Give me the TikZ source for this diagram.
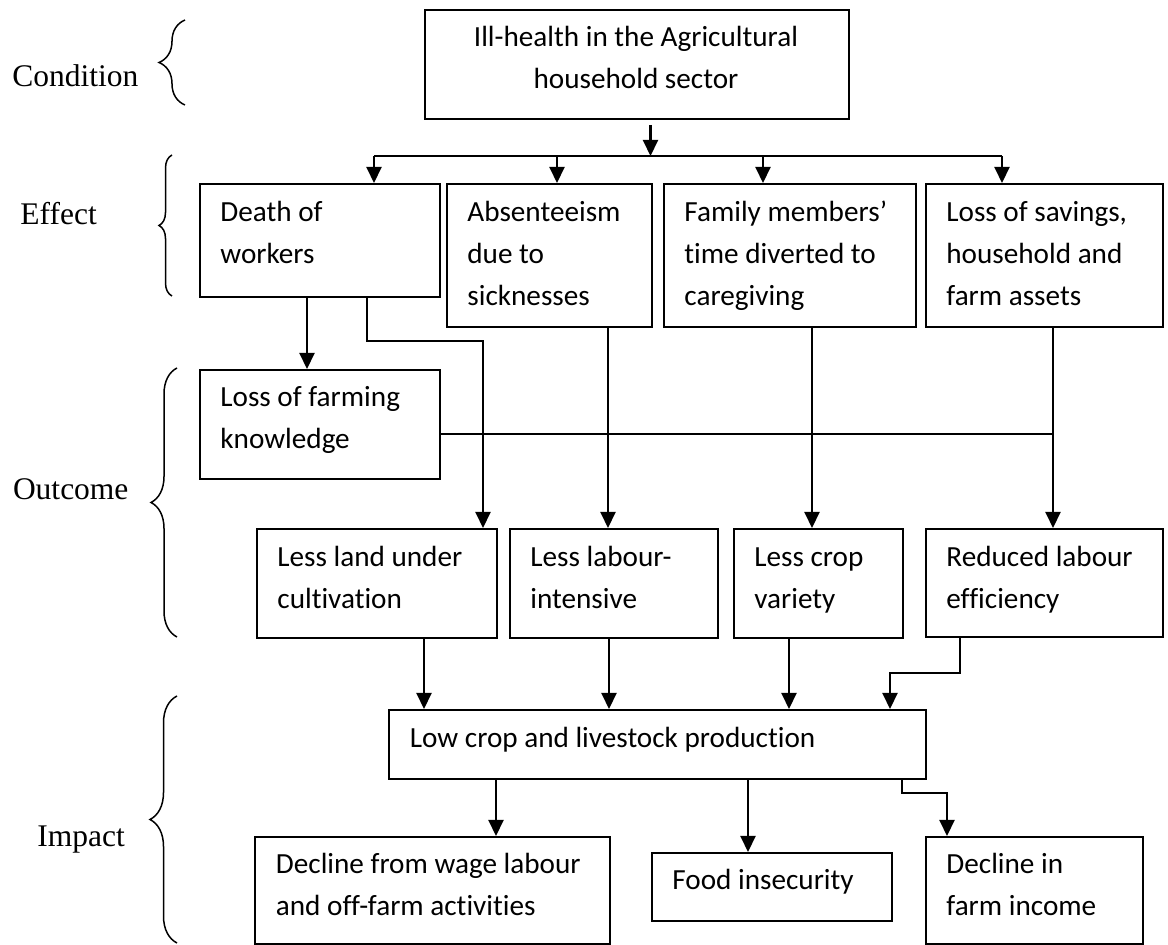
\documentclass[tikz,border=0pt]{standalone}
\usepackage{fontspec}
\setmainfont{Carlito}[Ligatures={TeX,NoCommon}]
\newfontfamily\tnr{Liberation Serif}
\usetikzlibrary{arrows.meta,decorations.pathreplacing}
\newcommand\ptext[1]{\parbox[t]{200pt}{\raggedright #1}}
\newcommand\mkbox[5]{\node[bx, minimum width={(#4-#2)*0.5pt}, minimum height={(#5-#3)*0.5pt}] (#1) at (#2,#3) {};}
\begin{document}
\begin{tikzpicture}[x=0.5pt,y=-0.5pt,
  bx/.style={draw, line width=1pt, inner sep=0pt, anchor=north west},
  tx/.style={inner sep=0pt, anchor=base west, font=\fontsize{14.6pt}{21pt}\selectfont},
  lab/.style={inner sep=0pt, anchor=base west, font=\tnr\fontsize{15.75pt}{18pt}\selectfont},
  ln/.style={line width=1.05pt},
  arr/.style={line width=1.05pt, -{Triangle[width=7.5pt,length=8pt]}},
  br/.style={line width=0.75pt, decorate, decoration={brace, amplitude=#1}},
]
\useasboundingbox (0,0) rectangle (1168,945);

% boxes
\mkbox{top}{424}{9}{848}{118}
\mkbox{death}{199}{183}{439}{296}
\mkbox{absent}{446}{183}{650.5}{326}
\mkbox{family}{663}{183}{915}{326}
\mkbox{savings}{924.5}{183}{1162}{326}
\mkbox{knowledge}{199}{369}{439}{478}
\mkbox{land}{256}{528}{496}{637}
\mkbox{labour}{509}{528}{717}{637}
\mkbox{variety}{733}{528}{902}{637}
\mkbox{efficiency}{924.5}{528}{1162}{636}
\mkbox{low}{388}{709}{924.5}{778}
\mkbox{wage}{254}{836}{609}{943}
\mkbox{food}{650.5}{852}{891}{920}
\mkbox{income}{924.5}{836}{1142}{943}

% texts
\node[tx, anchor=base] (ttop) at (636,47) {\parbox[t]{200pt}{\centering Ill-health in the Agricultural\\household sector}};
\node[tx] (tdeath) at (220,222) {\ptext{Death of\\workers}};
\node[tx] (tabs) at (467,222) {\ptext{Absenteeism\\due to\\sicknesses}};
\node[tx] (tfam) at (684,222) {\ptext{Family members’\\time diverted to\\caregiving}};
\node[tx] (tsav) at (946,222) {\ptext{Loss of savings,\\household and\\farm assets}};
\node[tx] (tknow) at (220,407) {\ptext{Loss of farming\\knowledge}};
\node[tx] (tland) at (277,567) {\ptext{Less land under\\cultivation}};
\node[tx] (tlab) at (530,567) {\ptext{Less labour-\\intensive}};
\node[tx] (tvar) at (754,567) {\ptext{Less crop\\variety}};
\node[tx] (teff) at (946,567) {\ptext{Reduced labour\\efficiency}};
\node[tx] (tlow) at (409.5,748) {Low crop and livestock production};
\node[tx] (twage) at (275.5,874) {\ptext{Decline from wage labour\\and off-farm activities}};
\node[tx] (tfood) at (672,890) {Food insecurity};
\node[tx] (tinc) at (946,874) {\ptext{Decline in\\farm income}};

% side labels
\node[lab] (lcond) at (12,87) {Condition};
\node[lab] (leff) at (20,225) {Effect};
\node[lab] (lout) at (12.6,500) {Outcome};
\node[lab] (limp) at (37,847) {Impact};

% braces
\draw[br=13pt] (185,105) -- (185,20);
\draw[br=6.5pt] (172,296) -- (172,155);
\draw[br=13pt] (177,637) -- (177,368);
\draw[br=13.5pt] (177,943) -- (177,696);

% connectors
\coordinate (bt) at (650.5,156);
\coordinate (b1) at (374,156);
\coordinate (b2) at (557,156);
\coordinate (b3) at (763,156);
\coordinate (b4) at (1002,156);
\draw[arr, shorten <=2.5pt] (top.south -| bt) -- (bt);
\draw[ln] (b1) -- (b4);
\draw[arr] (b1) -- (b1 |- death.north);
\draw[arr] (b2) -- (b2 |- absent.north);
\draw[arr] (b3) -- (b3 |- family.north);
\draw[arr] (b4) -- (b4 |- savings.north);

\coordinate (k0) at (307,0);
\draw[arr] (death.south -| k0) -- (knowledge.north -| k0);
\coordinate (d2) at (367,341);
\coordinate (d3) at (483,341);
\draw[arr] (death.south -| d2) -- (d2) -- (d3) -- (land.north -| d3);
\coordinate (x5) at (608,0);
\draw[arr] (absent.south -| x5) -- (labour.north -| x5);
\coordinate (x6) at (812,0);
\draw[arr] (family.south -| x6) -- (variety.north -| x6);
\coordinate (kj) at (1053,434);
\draw[arr] (savings.south -| kj) -- (efficiency.north -| kj);
\draw[ln] (knowledge.east |- kj) -- (kj);

\coordinate (x7) at (424,0);
\draw[arr] (land.south -| x7) -- (low.north -| x7);
\coordinate (x8) at (609,0);
\draw[arr] (labour.south -| x8) -- (low.north -| x8);
\coordinate (x9) at (789,0);
\draw[arr] (variety.south -| x9) -- (low.north -| x9);
\coordinate (e1) at (960,673);
\coordinate (e2) at (890,673);
\draw[arr] (efficiency.south -| e1) -- (e1) -- (e2) -- (low.north -| e2);

\coordinate (w1) at (496,0);
\draw[arr] (low.south -| w1) -- (wage.north -| w1);
\coordinate (f1) at (748,0);
\draw[arr] (low.south -| f1) -- (food.north -| f1);
\coordinate (i1) at (902,793);
\coordinate (i2) at (947,793);
\draw[arr] (low.south -| i1) -- (i1) -- (i2) -- (income.north -| i2);
\end{tikzpicture}
\end{document}
